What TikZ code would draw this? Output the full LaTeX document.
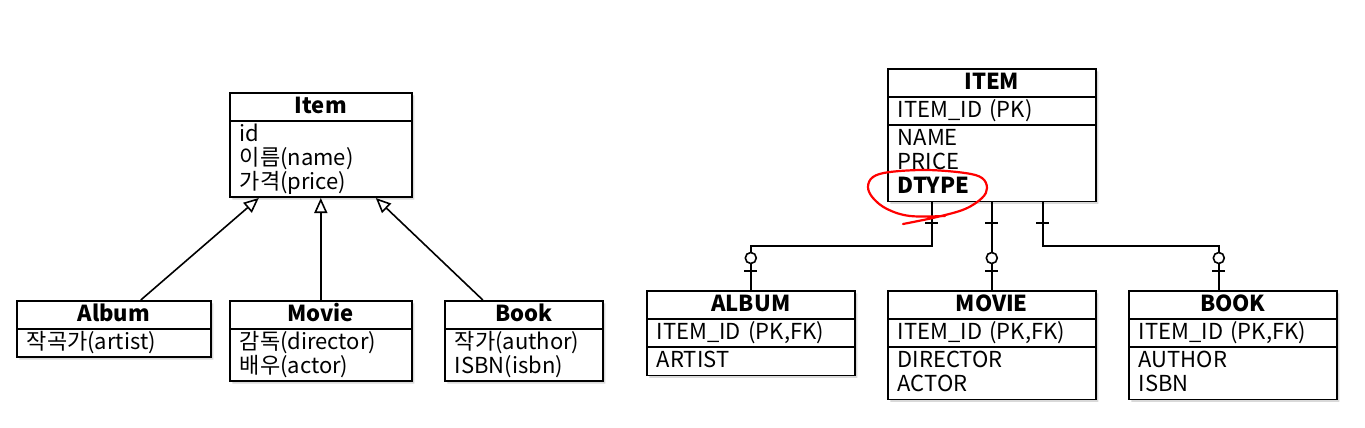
\documentclass[tikz,border=0pt]{standalone}
\usepackage{fontspec}
\setmainfont{Noto Sans CJK KR}
\usetikzlibrary{arrows.meta, shapes.multipart, shadows, decorations.markings}
\tikzset{>=stealth}
\tikzset{
  entity/.style={rectangle split, rectangle split parts=#1, draw, line width=1.6pt,
    fill=white, anchor=north west, inner xsep=10pt, inner ysep=1.3pt, align=left,
    font=\fontsize{22}{24}\selectfont,
    drop shadow={shadow xshift=2.5pt, shadow yshift=-2.5pt, opacity=0.3}},
  inherit/.style={line width=1.6pt, -{Triangle[length=15pt, width=13pt, fill=white]}},
  erline/.style={line width=1.6pt, postaction={decorate}, decoration={markings,
    mark=at position 21pt with {\draw[line width=1.6pt] (0pt,-6.5pt) -- (0pt,6.5pt);},
    mark=at position -32pt with {\draw[line width=1.6pt, fill=white] (0pt,0pt) circle (5.5pt);},
    mark=at position -19pt with {\draw[line width=1.6pt] (0pt,-6.5pt) -- (0pt,6.5pt);}}}
}
\newcommand{\row}[1]{\smash{#1}\rule[-5.5pt]{0pt}{24pt}}
\newcommand{\hd}[1]{{\centering\bfseries\row{#1}\par}}

\begin{document}
\begin{tikzpicture}[x=1pt, y=-1pt]
\useasboundingbox (0,0) rectangle (1365,428);
% object model
\node[entity=2, text width=162pt] (item) at (229,92)
  {\hd{Item}\nodepart{two}\row{id}\\\row{이름(name)}\\\row{가격(price)}};
\node[entity=2, text width=174pt] (album) at (16,300)
  {\hd{Album}\nodepart{two}\row{작곡가(artist)}};
\node[entity=2, text width=162pt] (movie) at (229,300)
  {\hd{Movie}\nodepart{two}\row{감독(director)}\\\row{배우(actor)}};
\node[entity=2, text width=138pt] (book) at (444,300)
  {\hd{Book}\nodepart{two}\row{작가(author)}\\\row{ISBN(isbn)}};
\draw[inherit] ([xshift=27pt]album.north) -- ([xshift=-62pt]item.south);
\draw[inherit] (movie.north) -- (item.south);
\draw[inherit] ([xshift=-41pt]book.north) -- ([xshift=55pt]item.south);
% tables
\node[entity=3, text width=188pt] (itemt) at (887,68)
  {\hd{ITEM}\nodepart{two}\row{ITEM\_ID (PK)}
   \nodepart{three}\row{NAME}\\\row{PRICE}\\\row{\textbf{DTYPE}}};
\node[entity=3, text width=188pt] (albumt) at (646,290)
  {\hd{ALBUM}\nodepart{two}\row{ITEM\_ID (PK,FK)}\nodepart{three}\row{ARTIST}};
\node[entity=3, text width=188pt] (moviet) at (887,290)
  {\hd{MOVIE}\nodepart{two}\row{ITEM\_ID (PK,FK)}\nodepart{three}\row{DIRECTOR}\\\row{ACTOR}};
\node[entity=3, text width=188pt] (bookt) at (1128,290)
  {\hd{BOOK}\nodepart{two}\row{ITEM\_ID (PK,FK)}\nodepart{three}\row{AUTHOR}\\\row{ISBN}};
\draw[erline] ([xshift=-60pt]itemt.south) -- ++(0,44) -| (albumt.north);
\draw[erline] (itemt.south) -- (moviet.north);
\draw[erline] ([xshift=51pt]itemt.south) -- ++(0,44) -| ([xshift=-14pt]bookt.north);
% mark on DTYPE
\draw[red, line width=2.2pt, line cap=round] plot[smooth, tension=0.6] coordinates
  {(903,224) (937,217) (965,209) (982,198) (987,188) (982,178) (965,173) (927,170)
   (890,172) (873,177) (868,187) (873,198) (887,209) (910,216) (945,216)};
\end{tikzpicture}
\end{document}
